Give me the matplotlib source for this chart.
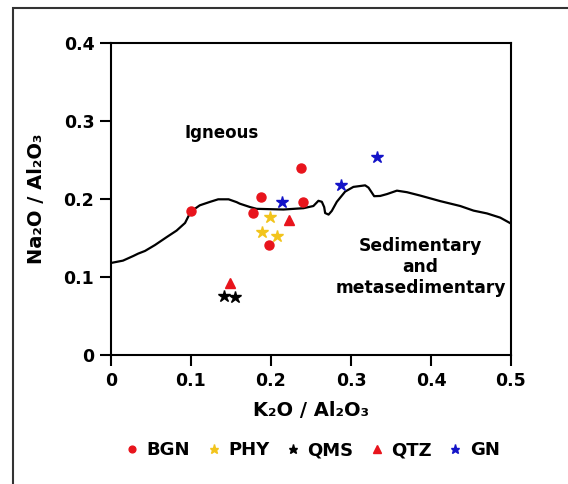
import matplotlib
matplotlib.use("Agg")
import matplotlib.pyplot as plt
from matplotlib.patches import Rectangle

plt.rcParams['font.family'] = ['DejaVu Sans']
plt.rcParams['font.weight'] = 'bold'

# boundary line between igneous and sedimentary fields
line_x = [0.0, 0.015, 0.028, 0.034, 0.0425, 0.055, 0.070, 0.082, 0.0926, 0.0997,
          0.111, 0.124, 0.134, 0.147, 0.157, 0.161, 0.174, 0.182, 0.2155, 0.2406,
          0.253, 0.2593, 0.2636, 0.2665, 0.2677, 0.272, 0.276, 0.2823, 0.2927, 0.303,
          0.3177, 0.3219, 0.329, 0.3365, 0.345, 0.3574, 0.370, 0.3865, 0.4115, 0.4366,
          0.4532, 0.470, 0.4866, 0.500]
line_y = [0.118, 0.121, 0.127, 0.130, 0.1334, 0.141, 0.1514, 0.1595, 0.1693, 0.1838,
          0.1919, 0.1964, 0.1996, 0.1996, 0.196, 0.194, 0.1896, 0.1874, 0.1865, 0.1882,
          0.191, 0.1977, 0.1964, 0.1896, 0.182, 0.180, 0.1847, 0.1964, 0.2095, 0.2155,
          0.2175, 0.2146, 0.2036, 0.2039, 0.2063, 0.2107, 0.2087, 0.2044, 0.1973, 0.191,
          0.1851, 0.1815, 0.1761, 0.1685]

bgn_x = [0.100, 0.187, 0.178, 0.237, 0.240, 0.198]
bgn_y = [0.184, 0.203, 0.182, 0.240, 0.196, 0.141]
phy_x = [0.199, 0.189, 0.208]
phy_y = [0.177, 0.158, 0.153]
qms_x = [0.141, 0.155]
qms_y = [0.076, 0.075]
qtz_x = [0.149, 0.222]
qtz_y = [0.092, 0.173]
gn_x = [0.214, 0.288, 0.332]
gn_y = [0.196, 0.2175, 0.2536]

x_ticks = [0, 0.1, 0.2, 0.3, 0.4, 0.5]
x_labels = ['0', '0.1', '0.2', '0.3', '0.4', '0.5']
y_ticks = [0, 0.1, 0.2, 0.3, 0.4]
y_labels = ['0', '0.1', '0.2', '0.3', '0.4']

fig = plt.figure(figsize=(5.68, 4.84), dpi=100)
ax = fig.add_axes([0.1954, 0.2665, 0.7042, 0.6447])

ax.plot(line_x, line_y, color='black', lw=1.6, zorder=2)

ax.plot(bgn_x, bgn_y, 'o', color='#e8141c', ms=6.5, ls='none', label='BGN', zorder=3)
ax.plot(phy_x, phy_y, '*', color='#f2c41c', ms=9, ls='none', label='PHY', zorder=3)
ax.plot(qms_x, qms_y, '*', color='black', ms=9, ls='none', label='QMS', zorder=3)
ax.plot(qtz_x, qtz_y, '^', color='#e8141c', ms=7, ls='none', label='QTZ', zorder=3)
ax.plot(gn_x, gn_y, '*', color='#1414c8', ms=9, ls='none', label='GN', zorder=3)

ax.set_xlim(0, 0.5)
ax.set_ylim(0, 0.4)
ax.set_xticks(x_ticks)
ax.set_xticklabels(x_labels)
ax.set_yticks(y_ticks)
ax.set_yticklabels(y_labels)
ax.tick_params(direction='out', length=8, width=1.5, labelsize=12.5, pad=4)
for s in ax.spines.values():
    s.set_linewidth(1.5)

ax.set_xlabel('K₂O / Al₂O₃', fontsize=14, fontweight='bold', labelpad=8)
ax.set_ylabel('Na₂O / Al₂O₃', fontsize=14, fontweight='bold', labelpad=13)

ax.text(0.138, 0.285, 'Igneous', fontsize=12, fontweight='bold', ha='center', va='center')
ax.text(0.387, 0.113, 'Sedimentary\nand\nmetasedimentary', fontsize=12.3, fontweight='bold',
        ha='center', va='center', linespacing=1.2)

leg = fig.legend(loc='center', bbox_to_anchor=(0.55, 0.07), ncol=5, frameon=False,
                 fontsize=13, handlelength=0.8, handletextpad=0.4, columnspacing=0.9,
                 markerscale=0.75)

# outer frame, partly cut off at right and bottom
fig.patches.append(Rectangle((13 / 568, -0.1), 1.2, 1.1 - 8 / 484,
                             transform=fig.transFigure, fill=False, edgecolor='#333333',
                             lw=1.5, clip_on=False))

fig.savefig('out.png', dpi=100)
